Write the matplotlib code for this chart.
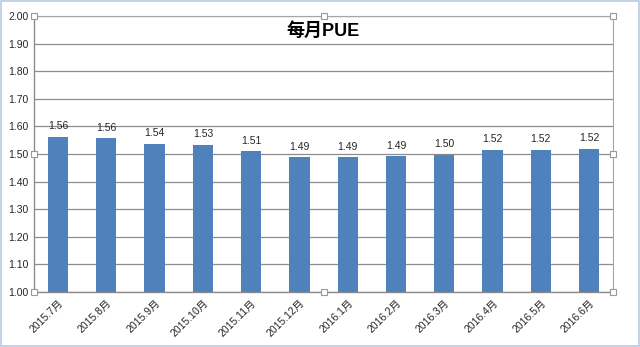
import matplotlib
matplotlib.use("Agg")
import matplotlib.pyplot as plt
import numpy as np

plt.rcParams["font.family"] = ["Liberation Sans", "Noto Sans CJK SC", "DejaVu Sans"]

months = ["2015.7月", "2015.8月", "2015.9月", "2015.10月", "2015.11月", "2015.12月",
          "2016.1月", "2016.2月", "2016.3月", "2016.4月", "2016.5月", "2016.6月"]
pue = [1.562, 1.557, 1.537, 1.533, 1.510, 1.488, 1.488, 1.491, 1.498, 1.516, 1.516, 1.519]
y_ticks = [1.0, 1.1, 1.2, 1.3, 1.4, 1.5, 1.6, 1.7, 1.8, 1.9, 2.0]

BAR_COLOR = "#4F81BD"
GRID_COLOR = "#8C8C8C"
TEXT_COLOR = "#262626"

fig = plt.figure(figsize=(6.4, 3.47), dpi=100)
fig.patch.set_facecolor("white")
ax = fig.add_axes([0.053, 0.1585, 0.905, 0.7955])

x = np.arange(len(months))
ax.bar(x, pue, width=0.42, color=BAR_COLOR, zorder=3)

for xi, v in zip(x, pue):
    ax.text(xi, v + 0.02, f"{v:.2f}", ha="center", va="bottom", fontsize=7.5, color=TEXT_COLOR)

ax.set_xlim(-0.5, len(months) - 0.5)
ax.set_ylim(1.0, 2.0)
ax.set_yticks(y_ticks)
ax.set_yticklabels([f"{t:.2f}" for t in y_ticks], fontsize=7.5, color=TEXT_COLOR)
ax.set_xticks(x)
ax.set_xticklabels(months, rotation=45, ha="right", rotation_mode="anchor", fontsize=7.5, color=TEXT_COLOR)
ax.tick_params(length=0, pad=4)
ax.yaxis.grid(True, color=GRID_COLOR, linewidth=0.9, zorder=0)

for side in ("top", "right"):
    ax.spines[side].set_color("#A6A6A6")
    ax.spines[side].set_linewidth(0.8)
for side in ("left", "bottom"):
    ax.spines[side].set_color("#8C8C8C")
    ax.spines[side].set_linewidth(1.0)

ax.text(0.5, 0.945, "每月PUE", transform=ax.transAxes, ha="center", va="center",
        fontsize=13, fontweight="bold", color="black",
        family=["Liberation Sans", "Noto Sans CJK SC"])

# selection handles around the plot area
hx = [0, 0.5, 1, 0, 1, 0, 0.5, 1]
hy = [1, 1, 1, 0.5, 0.5, 0, 0, 0]
ax.plot(hx, hy, linestyle="none", marker="s", markersize=4, markerfacecolor="white",
        markeredgecolor="#9A9A9A", markeredgewidth=0.8, transform=ax.transAxes,
        clip_on=False, zorder=5)

# outer chart border
fig.patches.append(plt.Rectangle((0.002, 0.003), 0.996, 0.994, transform=fig.transFigure,
                                 fill=False, edgecolor="#B8CCE4", linewidth=1.2))

fig.savefig("out.png", dpi=100)
